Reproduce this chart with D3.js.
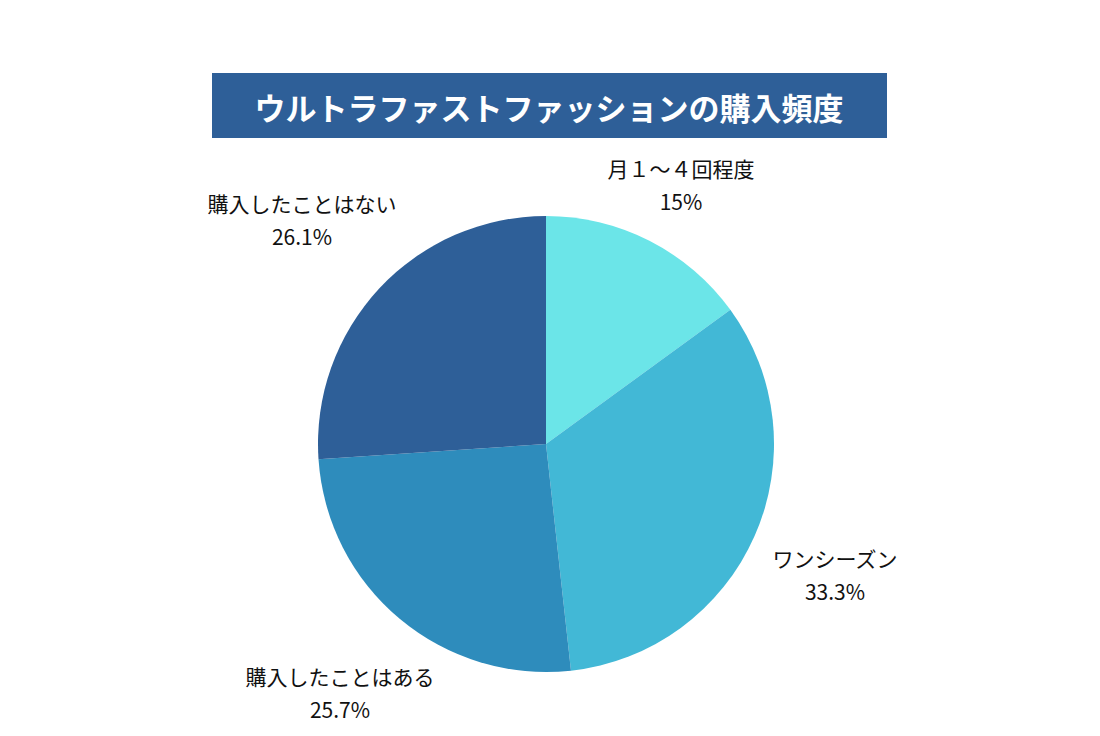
<!DOCTYPE html>
<html><head><meta charset="utf-8">
<script src="https://cdn.jsdelivr.net/npm/d3@7"></script>
<style>body{margin:0;background:#fff}</style></head>
<body><svg id="c" width="1100" height="736"></svg>
<script>
const categories=["月１～４回程度","ワンシーズン","購入したことはある","購入したことはない"];
const values=[15,33.3,25.7,26.1];
const valueLabels=["15%","33.3%","25.7%","26.1%"];
const colors=["#6be5e8","#42b8d6","#2e8cbc","#2e5f98"];
const labelPos=[[681,170],[835,560],[340,678],[302,205]];
const svg=d3.select("#c");
const font="'Noto Sans CJK JP','Noto Sans',sans-serif";
svg.append("rect").attr("x",212).attr("y",73).attr("width",675).attr("height",65).attr("fill","#2e5f98");
svg.append("text").attr("x",549).attr("y",106).attr("text-anchor","middle").attr("dominant-baseline","central")
 .attr("fill","#fff").attr("font-family",font).attr("font-weight","bold").attr("font-size",31).text("ウルトラファストファッションの購入頻度");
const pie=d3.pie().sort(null).value(d=>d);
const arc=d3.arc().innerRadius(0).outerRadius(228);
const g=svg.append("g").attr("transform","translate(546,444)");
g.selectAll("path").data(pie(values)).join("path").attr("d",arc).attr("fill",(d,i)=>colors[i]);
categories.forEach((c,i)=>{
 const t=svg.append("text").attr("text-anchor","middle").attr("font-family",font).attr("font-size",21).attr("fill","#111");
 t.append("tspan").attr("x",labelPos[i][0]).attr("y",labelPos[i][1]+7).text(c);
 t.append("tspan").attr("x",labelPos[i][0]).attr("y",labelPos[i][1]+40).text(valueLabels[i]);
});
</script></body></html>
